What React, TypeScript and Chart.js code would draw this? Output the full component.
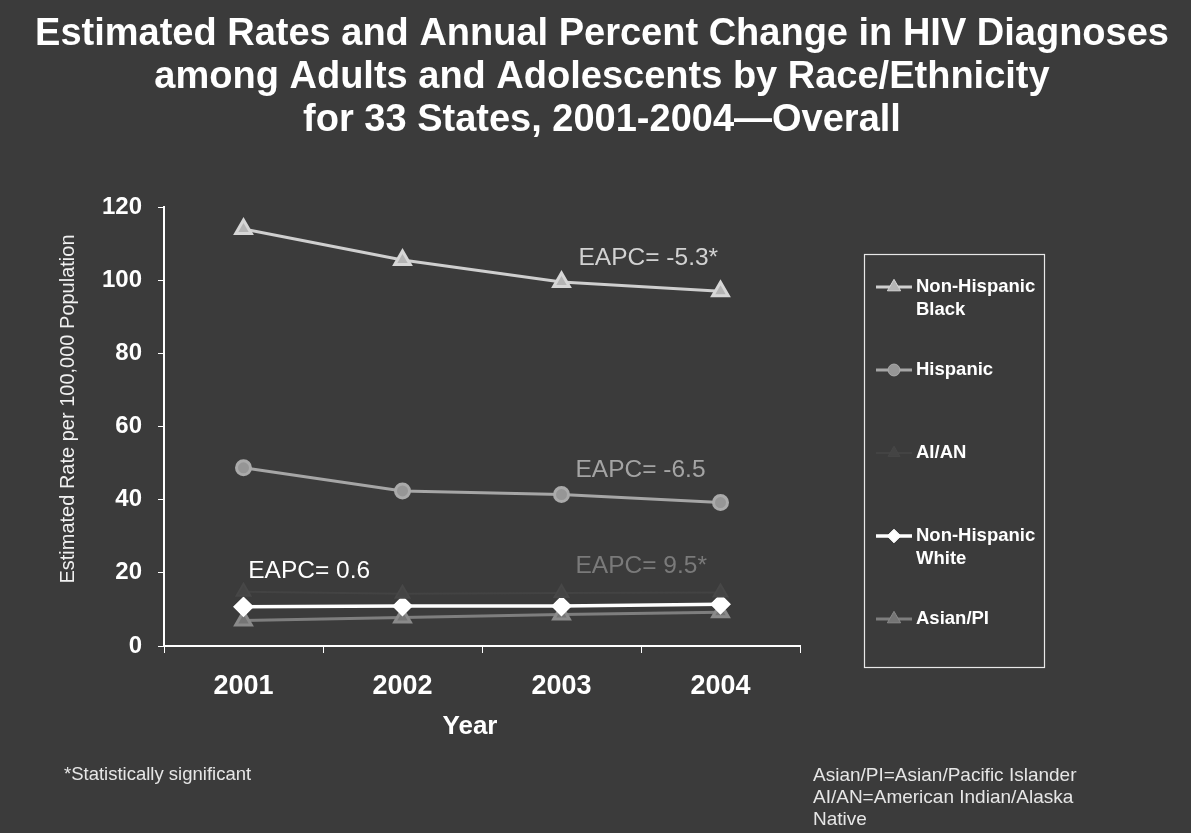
import React, { useEffect, useRef } from "react";
import { Chart, registerables } from "chart.js";

Chart.register(...registerables);

const years = ["2001", "2002", "2003", "2004"];
const nhBlack = [114, 105.5, 99.5, 97];
const hispanic = [48.7, 42.4, 41.4, 39.2];
const aian = [14.8, 14.3, 14.5, 14.6];
const nhWhite = [10.7, 10.9, 10.9, 11.4];
const asianPI = [7.0, 7.8, 8.6, 9.2];

const seriesNames = ["Non-Hispanic Black", "Hispanic", "AI/AN", "Non-Hispanic White", "Asian/PI"];
const legendLines = [["Non-Hispanic", "Black"], ["Hispanic"], ["AI/AN"], ["Non-Hispanic", "White"], ["Asian/PI"]];
const eapcLabels = ["EAPC= -5.3*", "EAPC= -6.5", "EAPC= 0.6", "EAPC= 9.5*"];
const titleLines = [
  "Estimated Rates and Annual Percent Change in HIV Diagnoses",
  "among Adults and Adolescents by Race/Ethnicity",
  "for 33 States, 2001-2004\u2014Overall",
];
const yAxisTitle = "Estimated Rate per 100,000 Population";
const xAxisTitle = "Year";
const footLeft = "*Statistically significant";
const footRight = ["Asian/PI=Asian/Pacific Islander", "AI/AN=American Indian/Alaska", "Native"];

const FONT = "Arial, 'Liberation Sans', sans-serif";

function drawMarker(ctx: CanvasRenderingContext2D, style: string, x: number, y: number, r: number, fill: string, stroke: string) {
  ctx.save();
  ctx.fillStyle = fill;
  ctx.strokeStyle = stroke;
  ctx.lineWidth = 1;
  ctx.beginPath();
  if (style === "triangle") {
    ctx.moveTo(x, y - r);
    ctx.lineTo(x + r * 0.866, y + r * 0.5);
    ctx.lineTo(x - r * 0.866, y + r * 0.5);
    ctx.closePath();
  } else if (style === "circle") {
    ctx.arc(x, y, r, 0, Math.PI * 2);
  } else {
    ctx.moveTo(x, y - r);
    ctx.lineTo(x + r, y);
    ctx.lineTo(x, y + r);
    ctx.lineTo(x - r, y);
    ctx.closePath();
  }
  ctx.fill();
  ctx.stroke();
  ctx.restore();
}

export default function App() {
  const ref = useRef<HTMLCanvasElement | null>(null);

  useEffect(() => {
    if (!ref.current) return;

    const annPos = [
      { x: 2.107, y: 106.0, color: "#d2d2d2" },
      { x: 2.088, y: 48.1, color: "#a4a4a4" },
      { x: 0.03, y: 20.5, color: "#ffffff" },
      { x: 2.088, y: 21.9, color: "#7a7a7a" },
    ];

    const decor = {
      id: "decor",
      beforeDraw(chart: any) {
        const ctx = chart.ctx as CanvasRenderingContext2D;
        ctx.save();
        ctx.fillStyle = "#3b3b3b";
        ctx.fillRect(0, 0, chart.width, chart.height);
        ctx.restore();
      },
      afterDraw(chart: any) {
        const ctx = chart.ctx as CanvasRenderingContext2D;
        const xs = chart.scales.x;
        const ys = chart.scales.y;
        ctx.save();
        // Title
        ctx.fillStyle = "#ffffff";
        ctx.textAlign = "center";
        ctx.textBaseline = "middle";
        ctx.font = `bold 38px ${FONT}`;
        const tY = [35, 78, 121];
        titleLines.forEach((t, i) => ctx.fillText(t, 602, tY[i]));

        // Y axis title
        ctx.save();
        ctx.translate(68, 409);
        ctx.rotate(-Math.PI / 2);
        ctx.font = `20px ${FONT}`;
        ctx.fillStyle = "#f0f0f0";
        ctx.fillText(yAxisTitle, 0, 0);
        ctx.restore();

        // X axis title
        ctx.font = `bold 26px ${FONT}`;
        ctx.fillStyle = "#ffffff";
        ctx.fillText(xAxisTitle, 470, 727);

        // EAPC annotations
        ctx.textAlign = "left";
        ctx.font = `24.5px ${FONT}`;
        eapcLabels.forEach((t, i) => {
          const p = annPos[i];
          ctx.fillStyle = p.color;
          ctx.fillText(t, xs.getPixelForValue(p.x), ys.getPixelForValue(p.y));
        });

        // Legend box
        ctx.strokeStyle = "#e8e8e8";
        ctx.lineWidth = 1.2;
        ctx.strokeRect(864.5, 254.5, 180, 413);
        chart.data.datasets.forEach((ds: any, i: number) => {
          const y0 = 287 + 83 * i;
          ctx.strokeStyle = ds.borderColor;
          ctx.lineWidth = ds.borderWidth;
          ctx.beginPath();
          ctx.moveTo(876, y0);
          ctx.lineTo(912, y0);
          ctx.stroke();
          drawMarker(ctx, ds.pointStyle, 894, y0, ds.pointRadius * 0.85, ds.pointBackgroundColor, ds.pointBorderColor);
          ctx.fillStyle = "#ffffff";
          ctx.font = `bold 18.5px ${FONT}`;
          ctx.textAlign = "left";
          legendLines[i].forEach((l, j) => ctx.fillText(l, 916, y0 + 23 * j));
        });

        // Footnotes
        ctx.font = `18.5px ${FONT}`;
        ctx.fillStyle = "#e6e6e6";
        ctx.fillText(footLeft, 64, 775);
        ctx.font = `19px ${FONT}`;
        footRight.forEach((l, i) => ctx.fillText(l, 813, 776 + 22 * i));
        ctx.restore();
      },
    };

    const chart = new Chart(ref.current, {
      type: "line",
      data: {
        labels: years,
        datasets: [
          {
            label: seriesNames[0],
            data: nhBlack,
            borderColor: "#cfcfcf",
            borderWidth: 3,
            pointStyle: "triangle",
            pointRadius: 9,
            pointBackgroundColor: "#b4b4b4",
            pointBorderColor: "#d6d6d6",
          },
          {
            label: seriesNames[1],
            data: hispanic,
            borderColor: "#a6a6a6",
            borderWidth: 3,
            pointStyle: "circle",
            pointRadius: 7,
            pointBackgroundColor: "#969696",
            pointBorderColor: "#aaaaaa",
          },
          {
            label: seriesNames[2],
            data: aian,
            borderColor: "#434343",
            borderWidth: 2,
            pointStyle: "triangle",
            pointRadius: 8,
            pointBackgroundColor: "#444444",
            pointBorderColor: "#474747",
          },
          {
            label: seriesNames[3],
            data: nhWhite,
            borderColor: "#ffffff",
            borderWidth: 3.5,
            pointStyle: "rectRot",
            pointRadius: 8,
            pointBackgroundColor: "#ffffff",
            pointBorderColor: "#ffffff",
          },
          {
            label: seriesNames[4],
            data: asianPI,
            borderColor: "#7e7e7e",
            borderWidth: 3,
            pointStyle: "triangle",
            pointRadius: 9,
            pointBackgroundColor: "#757575",
            pointBorderColor: "#8a8a8a",
          },
        ] as any,
      },
      options: {
        responsive: false,
        animation: false,
        layout: { padding: { left: 0, top: 207, right: 391, bottom: 127 } },
        plugins: {
          legend: { display: false },
          title: { display: false },
          tooltip: { enabled: false },
        },
        scales: {
          x: {
            type: "category",
            offset: true,
            grid: { display: true, drawOnChartArea: false, drawTicks: true, tickLength: 7, color: "#ffffff", offset: true },
            border: { display: true, color: "#ffffff", width: 2 },
            ticks: { color: "#ffffff", font: { family: FONT, size: 27, weight: "bold" }, padding: 17, maxRotation: 0 },
            afterFit: (s: any) => { s.height = 60; },
          },
          y: {
            min: 0,
            max: 120,
            grid: { display: true, drawOnChartArea: false, drawTicks: true, tickLength: 6, color: "#ffffff" },
            border: { display: true, color: "#ffffff", width: 2 },
            ticks: { stepSize: 20, color: "#ffffff", font: { family: FONT, size: 24, weight: "bold" }, padding: 16 },
            afterFit: (s: any) => { s.width = 164; },
          },
        },
      } as any,
      plugins: [decor],
    });

    return () => chart.destroy();
  }, []);

  return (
    <div style={{ position: "fixed", left: 0, top: 0, width: 1191, height: 833 }}>
      <canvas ref={ref} width={1191} height={833} style={{ width: 1191, height: 833, display: "block" }} />
    </div>
  );
}
